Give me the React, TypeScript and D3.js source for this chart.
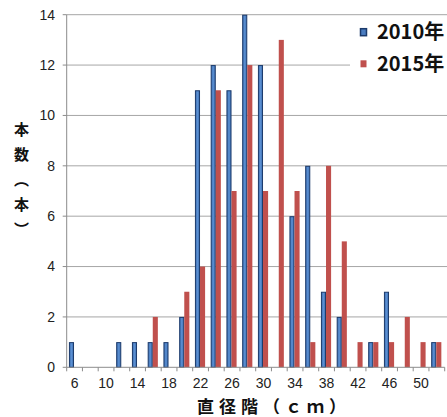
import React from 'react';
import * as d3 from 'd3';

// Diameter classes (cm) and tree counts per class
const diameterClasses = [6, 8, 10, 12, 14, 16, 18, 20, 22, 24, 26, 28, 30, 32, 34, 36, 38, 40, 42, 44, 46, 48, 50, 52];
const counts2010 = [1, 0, 0, 1, 1, 1, 1, 2, 11, 12, 11, 14, 12, 0, 6, 8, 3, 2, 0, 1, 3, 0, 0, 1];
const counts2015 = [0, 0, 0, 0, 0, 2, 0, 3, 4, 11, 7, 12, 7, 13, 7, 1, 8, 5, 1, 1, 1, 2, 1, 1];
const seriesNames = ['2010年', '2015年'];
const yTicks = [0, 2, 4, 6, 8, 10, 12, 14];
const xTickLabels = [6, 10, 14, 18, 22, 26, 30, 34, 38, 42, 46, 50];

const W = 447;
const H = 417;
const left = 66.7;
const right = 444.7;
const top = 14.7;
const bottom = 367.3;

const BLUE = '#4a7cc0';
const BLUE_EDGE = '#1b3a6b';
const RED = '#c0504d';
const GRID = '#a6a6a6';
const AXIS = '#8c8c8c';

export default function App() {
  const x = d3.scaleBand<number>().domain(diameterClasses).range([left, right]).padding(0);
  const inner = d3
    .scaleBand<string>()
    .domain(seriesNames)
    .range([0, x.bandwidth()])
    .paddingInner(0)
    .paddingOuter(0.55)
    .align(0.4);
  const y = d3.scaleLinear().domain([0, 14]).range([bottom, top]);

  const series = [
    { name: seriesNames[0], values: counts2010, fill: BLUE, stroke: BLUE_EDGE },
    { name: seriesNames[1], values: counts2015, fill: RED, stroke: 'none' },
  ];

  const boundaries = d3.range(diameterClasses.length + 1).map((i) => left + i * x.step());

  return (
    <svg
      width={W}
      height={H}
      style={{ position: 'absolute', left: 0, top: 0, background: '#fff' }}
      fontFamily="'Liberation Sans', Arial, sans-serif"
    >
      <defs>
        <linearGradient id="blueFill" x1="0" x2="1" y1="0" y2="0">
          <stop offset="0" stopColor="#3d6fb0" />
          <stop offset="0.5" stopColor="#5b8fd2" />
          <stop offset="1" stopColor="#3d6fb0" />
        </linearGradient>
      </defs>

      {/* horizontal gridlines */}
      {yTicks.slice(1).map((t) => (
        <line key={'g' + t} x1={left} x2={W} y1={y(t)} y2={y(t)} stroke={GRID} strokeWidth={1} />
      ))}

      {/* legend background masks the grid behind it */}
      <rect x={350} y={19} width={W - 350} height={75} fill="#fff" />

      {/* bars */}
      {series.map((s) =>
        s.values.map((v, i) =>
          v > 0 ? (
            <rect
              key={s.name + diameterClasses[i]}
              x={(x(diameterClasses[i]) as number) + (inner(s.name) as number) + (s.stroke !== 'none' ? 0.5 : 0)}
              y={y(v) + (s.stroke !== 'none' ? 0.5 : 0)}
              width={inner.bandwidth() - (s.stroke !== 'none' ? 1 : 0)}
              height={y(0) - y(v) - (s.stroke !== 'none' ? 0.5 : 0)}
              fill={s.stroke !== 'none' ? 'url(#blueFill)' : s.fill}
              stroke={s.stroke}
              strokeWidth={1}
            />
          ) : null
        )
      )}

      {/* axes */}
      <line x1={left} x2={left} y1={top} y2={bottom} stroke={AXIS} strokeWidth={1} />
      <line x1={left} x2={right} y1={bottom} y2={bottom} stroke={AXIS} strokeWidth={1} />
      {yTicks.map((t) => (
        <line key={'yt' + t} x1={left - 4} x2={left} y1={y(t)} y2={y(t)} stroke={AXIS} />
      ))}
      {boundaries.map((bx, i) => (
        <line key={'xt' + i} x1={bx} x2={bx} y1={bottom} y2={bottom + 4} stroke={AXIS} />
      ))}

      {/* y tick labels */}
      {yTicks.map((t) => (
        <text key={'yl' + t} x={55} y={y(t)} dy="0.35em" textAnchor="end" fontSize={14} fill="#222">
          {t}
        </text>
      ))}

      {/* x tick labels */}
      {xTickLabels.map((c) => (
        <text
          key={'xl' + c}
          x={(x(c) as number) + x.bandwidth() / 2}
          y={388}
          textAnchor="middle"
          fontSize={14}
          fill="#222"
        >
          {c}
        </text>
      ))}

      {/* axis titles */}
      <text
        x={197}
        y={413}
        fontFamily="'Noto Sans CJK JP', sans-serif"
        fontWeight={700}
        fontSize={17}
        letterSpacing={5}
        fill="#111"
      >
        直径階（ｃｍ）
      </text>
      <text
        x={21.5}
        y={122}
        fontFamily="'Noto Sans CJK JP', sans-serif"
        fontWeight={700}
        fontSize={15}
        letterSpacing={10}
        fill="#111"
        style={{ writingMode: 'vertical-rl' }}
      >
        本数（本）
      </text>

      {/* legend */}
      {series.map((s, i) => (
        <g key={'lg' + s.name} transform={`translate(360, ${31.7 + i * 31.6})`}>
          <rect
            x={0.5}
            y={-3}
            width={6}
            height={7}
            fill={s.fill}
            stroke={s.stroke}
            strokeWidth={s.stroke !== 'none' ? 1.5 : 0}
          />
          <text
            x={17}
            y={0}
            dy="0.36em"
            fontFamily="'Noto Sans CJK JP', sans-serif"
            fontWeight={700}
            fontSize={20}
            fill="#111"
          >
            {s.name}
          </text>
        </g>
      ))}
    </svg>
  );
}
